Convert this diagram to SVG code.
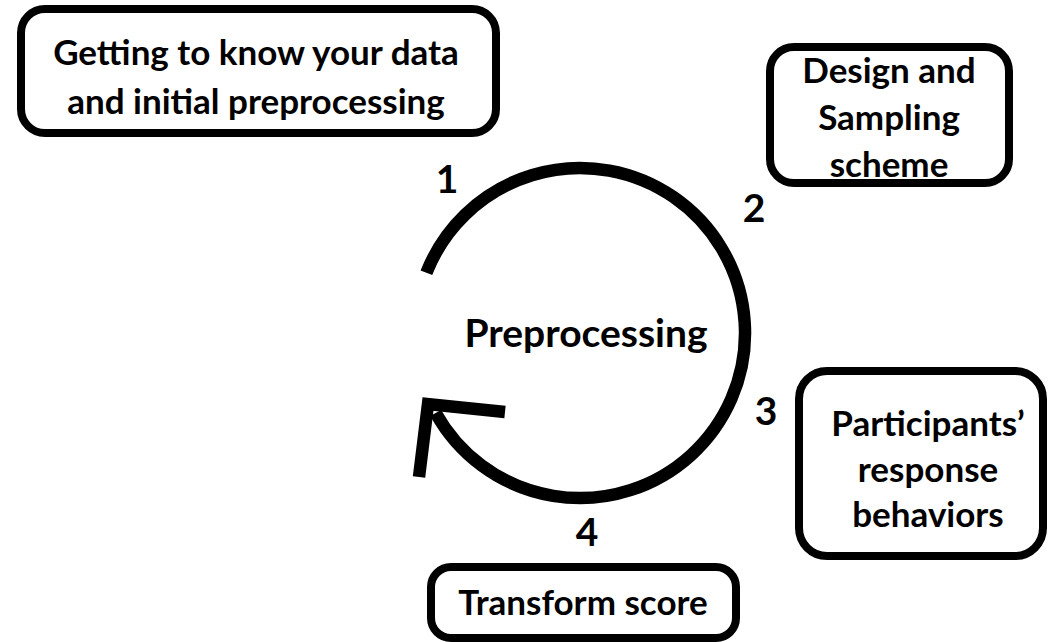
<svg xmlns="http://www.w3.org/2000/svg" width="1048" height="642" viewBox="0 0 1048 642">
  <style>
    .box { fill: #ffffff; stroke: #000000; stroke-width: 8; }
    .label { font-family: Lato, "Open Sans", "Liberation Sans", sans-serif; font-weight: 700; font-size: 35px; fill: #000000; text-anchor: middle; }
    .num { font-family: Lato, "Open Sans", "Liberation Sans", sans-serif; font-weight: 700; font-size: 39px; fill: #000000; text-anchor: middle; }
    .cycle { fill: none; stroke: #000000; stroke-width: 12.5; }
  </style>
  <rect width="1048" height="642" fill="#ffffff"/>

  <!-- cycle arrow -->
  <g id="connectors">
    <path class="cycle" d="M 426.4 272.8 A 165 165 0 1 1 435.7 413"/>
    <polyline class="cycle" stroke-width="13" stroke-linejoin="miter" points="505,412 428,404 419,477"/>
  </g>

  <g id="center">
    <text class="num" x="586" y="347" font-size="40">Preprocessing</text>
  </g>

  <g id="step-numbers">
    <text class="num" x="447" y="193">1</text>
    <text class="num" x="754" y="222">2</text>
    <text class="num" x="766" y="425">3</text>
    <text class="num" x="587" y="546">4</text>
  </g>

  <g id="node-getting-to-know">
    <rect class="box" x="21" y="9" width="475" height="124" rx="24"/>
    <text class="label" x="256" y="65">Getting to know your data</text>
    <text class="label" x="256" y="114">and initial preprocessing</text>
  </g>

  <g id="node-design">
    <rect class="box" x="770" y="47" width="239" height="136" rx="24"/>
    <text class="label" x="889" y="83" font-size="33">Design and</text>
    <text class="label" x="889" y="130" font-size="33">Sampling</text>
    <text class="label" x="889" y="177" font-size="33">scheme</text>
  </g>

  <g id="node-participants">
    <rect class="box" x="799" y="371" width="244" height="185" rx="28"/>
    <text class="label" x="928" y="436" font-size="36.5">Participants’</text>
    <text class="label" x="928" y="482" font-size="36.5">response</text>
    <text class="label" x="928" y="527" font-size="36.5">behaviors</text>
  </g>

  <g id="node-transform">
    <rect class="box" x="431" y="567" width="305" height="71" rx="20"/>
    <text class="label" x="583" y="615">Transform score</text>
  </g>
</svg>
